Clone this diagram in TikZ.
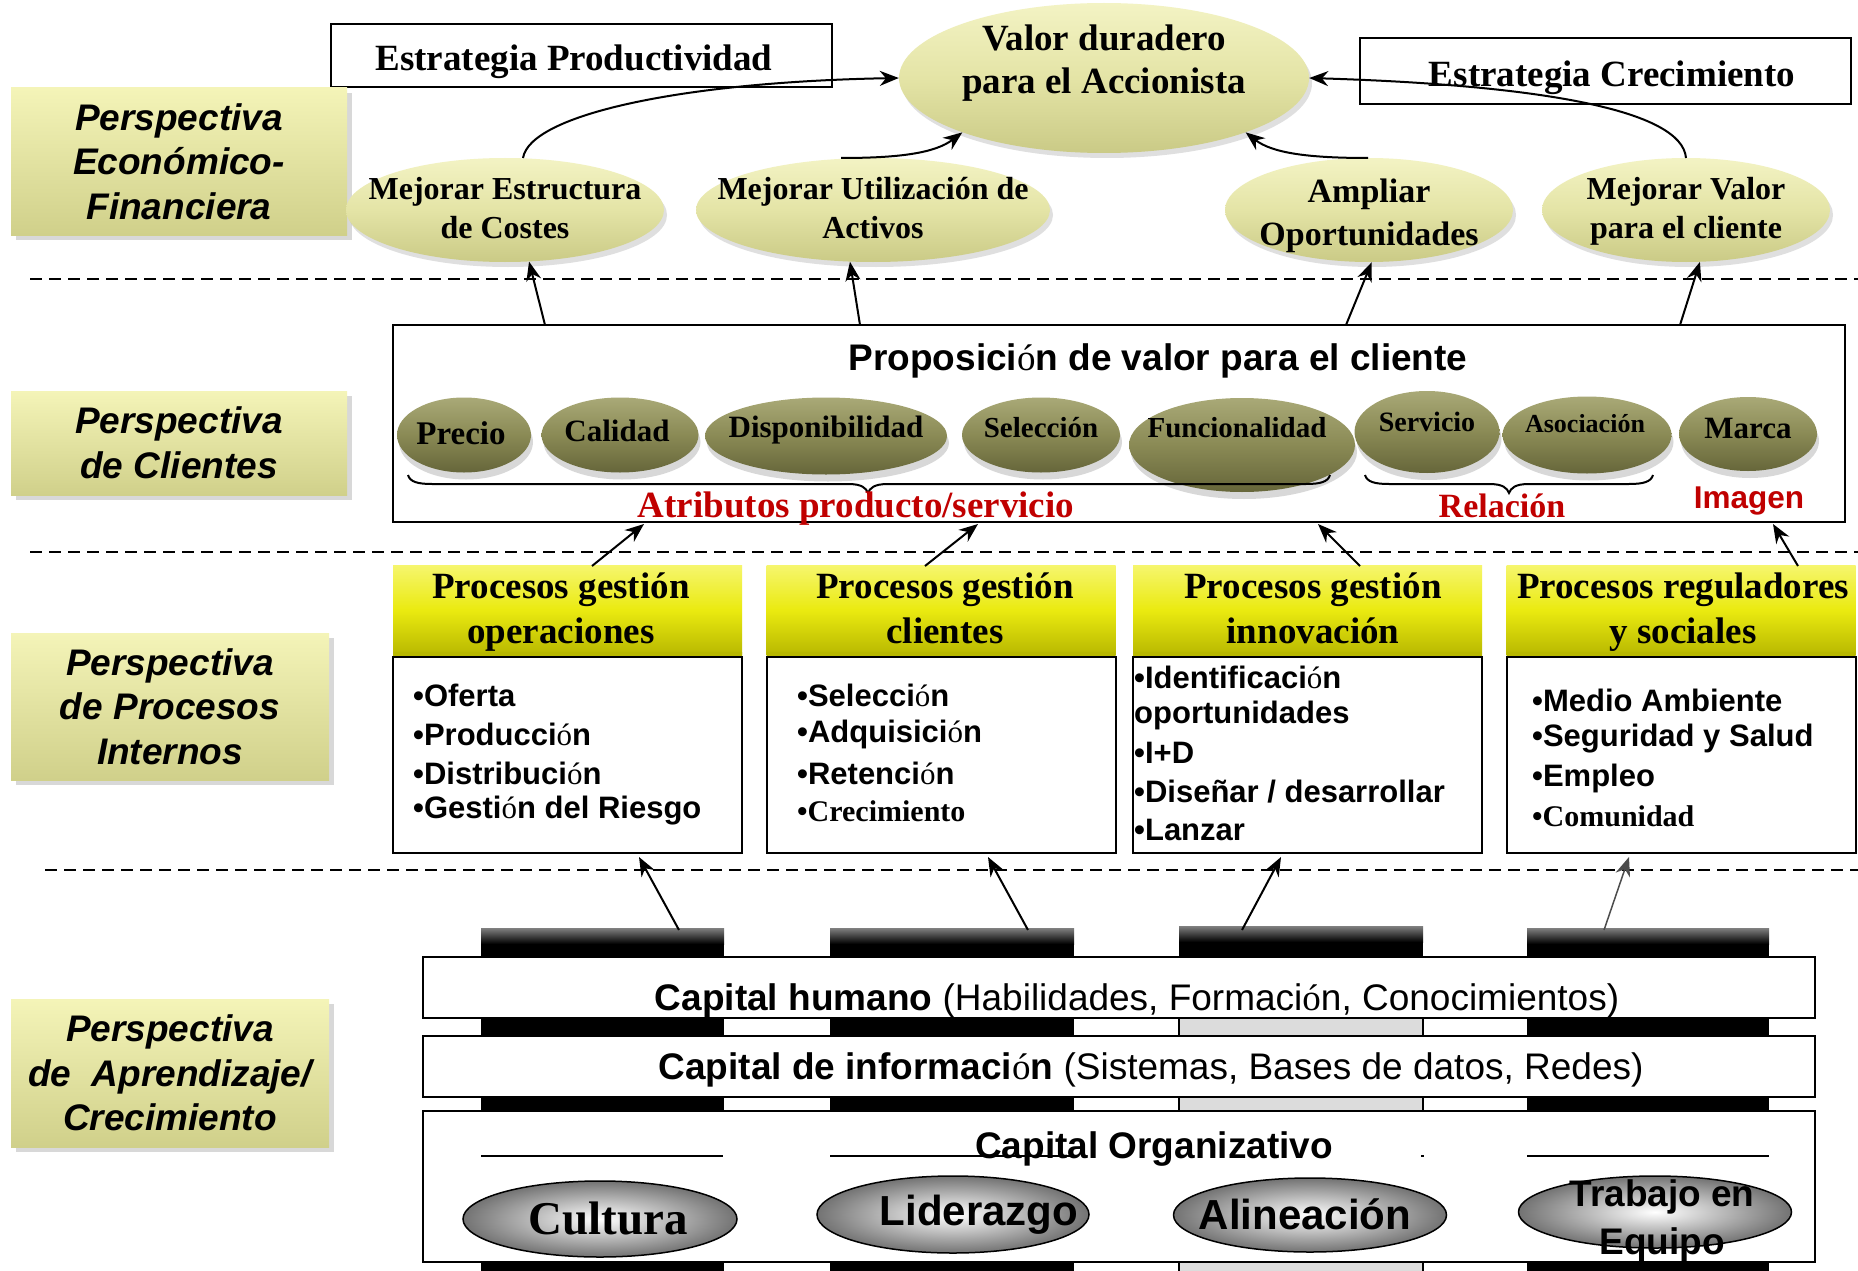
\documentclass[tikz,border=0pt]{standalone}
\usepackage{fontspec}
\setmainfont{Liberation Serif}
\setsansfont{Liberation Sans}
\newfontfamily\oofont{Liberation Serif}
\usetikzlibrary{shapes.geometric,arrows.meta,shadows,calc}
\newcommand{\oo}{{\oofont\mdseries ó}}
\newcommand{\fsz}[2]{\fontsize{#1}{#2}\selectfont}
\definecolor{persA}{HTML}{F4F4B8}
\definecolor{persB}{HTML}{D0D08A}
\definecolor{loA}{HTML}{F3F3C4}
\definecolor{loM}{HTML}{E4E4A6}
\definecolor{loB}{HTML}{CACA86}
\definecolor{doA}{HTML}{A9A977}
\definecolor{doM}{HTML}{8A8A55}
\definecolor{doB}{HTML}{66663A}
\definecolor{yA}{HTML}{F6F66E}
\definecolor{yM}{HTML}{EAEA10}
\definecolor{yB}{HTML}{B8B800}
\definecolor{redt}{HTML}{C00000}
\definecolor{cgray}{HTML}{DCDCDC}
\begin{document}
\begin{tikzpicture}[x=1pt,y=-1pt,
  persp/.style={rectangle,inner sep=0pt,top color=persA,bottom color=persB,
    drop shadow={shadow xshift=5pt,shadow yshift=-5pt,opacity=.3},
    align=center,font=\sffamily\bfseries\itshape\fsz{37}{44.5}},
  stratbox/.style={rectangle,draw,line width=2pt,fill=white,inner sep=0pt},
  sertxt/.style={inner sep=0pt,align=center,font=\bfseries\fsz{32}{39}},
  lolive/.style={ellipse,inner sep=0pt,top color=loA,bottom color=loB,middle color=loM,
    drop shadow={shadow xshift=3pt,shadow yshift=-5pt,opacity=.25}},
  dolive/.style={ellipse,inner sep=0pt,top color=doA,bottom color=doB,middle color=doM,
    drop shadow={shadow xshift=2pt,shadow yshift=-7pt,opacity=.3}},
  arr/.style={-{Stealth[length=19pt,width=15pt]},line width=2pt},
  sepline/.style={dash pattern=on 12pt off 7pt,line width=2.5pt},
  yhead/.style={rectangle,inner sep=0pt,top color=yA,bottom color=yB,middle color=yM,
    minimum width=349,minimum height=90},
  htxt/.style={inner sep=0pt,align=center,font=\bfseries\fsz{37}{45}},
  pbody/.style={rectangle,draw,line width=2pt,fill=white,minimum width=349,minimum height=196},
  bul/.style={anchor=west,inner sep=0pt,font=\sffamily\bfseries\fsz{31}{38}},
  band/.style={rectangle,draw,line width=2pt,fill=white,inner sep=0pt,minimum width=1392},
  silver/.style={ellipse,draw,line width=1.5pt,inner sep=0pt,inner color=white,outer color=black!55},
  brace/.style={line width=2pt}
]
\useasboundingbox (0,0) rectangle (1858,1271);
\fill[white] (0,0) rectangle (1858,1271);

% separators
\draw[sepline] (30,279) -- (1858,279);
\draw[sepline] (30,552) -- (1858,552);
\draw[sepline] (45,870) -- (1858,870);

% strategy boxes
\node[stratbox,minimum width=501,minimum height=63] (sprod) at (581.5,55.5) {};
\node[sertxt,font=\bfseries\fsz{37}{44}] (sprodt) at (574,62) {Estrategia Productividad};
\node[stratbox,minimum width=491,minimum height=66] (screc) at (1605.5,71) {};
\node[sertxt,font=\bfseries\fsz{37}{44}] (screct) at (1612,78) {Estrategia Crecimiento};

% perspective labels
\node[persp,minimum width=336,minimum height=147] (pe1) at (179,161.5) {Perspectiva\\Económico-\\Financiera};
\node[persp,minimum width=336,minimum height=104] (pe2) at (179,443) {Perspectiva\\de Clientes};
\node[persp,minimum width=318,minimum height=147] (pe3) at (170,706.5) {Perspectiva\\de Procesos\\Internos};
\node[persp,minimum width=318,minimum height=148] (pe4) at (170,1073) {Perspectiva\\de~ Aprendizaje/\\Crecimiento};

% financial ellipses
\node[lolive,minimum width=410,minimum height=150] (valor) at (1104,78) {};
\node[sertxt,font=\bfseries\fsz{37}{43}] (valort) at (1104,63) {Valor duradero\\para el Accionista};
\node[lolive,minimum width=318,minimum height=104] (me1) at (505,210) {};
\node[sertxt] (me1t) at (505,208) {Mejorar Estructura\\de Costes};
\node[lolive,minimum width=354,minimum height=104] (me2) at (873,210) {};
\node[sertxt] (me2t) at (873,208) {Mejorar Utilización de\\Activos};
\node[lolive,minimum width=288,minimum height=104] (me3) at (1369,210) {};
\node[sertxt,font=\bfseries\fsz{34}{43}] (me3t) at (1369,216) {Ampliar\\Oportunidades};
\node[lolive,minimum width=288,minimum height=104] (me4) at (1686,210) {};
\node[sertxt] (me4t) at (1686,211) {Mejorar Valor\\para el cliente};

% curved arrows to valor
\coordinate (c1) at (523,158);
\coordinate (c2) at (841,158);
\coordinate (c3) at (1368,158);
\coordinate (c4) at (1686,158);
\draw[arr] (c1) .. controls (530,115) and (680,82) .. (valor.west);
\draw[arr] (c2) .. controls (900,158) and (935,153) .. (valor.201);
\draw[arr] (c3) .. controls (1308,158) and (1272,153) .. (valor.-21);
\draw[arr] (c4) .. controls (1682,110) and (1540,85) .. (valor.east);

% customer value proposition
\node[rectangle,draw,line width=2pt,fill=white,minimum width=1452,minimum height=197,inner sep=0pt] (prop) at (1119,423.5) {};
\node[inner sep=0pt,font=\sffamily\bfseries\fsz{37}{44}] (propt) at (1158,361) {Proposici\oo n de valor para el cliente};

\node[dolive,minimum width=134,minimum height=75] (e1) at (464,435) {};
\node[sertxt,font=\bfseries\fsz{33}{40}] (e1t) at (461,433) {Precio};
\node[dolive,minimum width=157,minimum height=75] (e2) at (620,435) {};
\node[sertxt,font=\bfseries\fsz{31}{40}] (e2t) at (617,431) {Calidad};
\node[dolive,minimum width=242,minimum height=77] (e3) at (826,436) {};
\node[sertxt,font=\bfseries\fsz{31}{40}] (e3t) at (826,430) {Disponibilidad};
\node[dolive,minimum width=158,minimum height=75] (e4) at (1041,435) {};
\node[sertxt,font=\bfseries\fsz{29}{40}] (e4t) at (1041,428) {Selección};
\node[dolive,minimum width=226,minimum height=94] (e5) at (1242,445) {};
\node[sertxt,font=\bfseries\fsz{29}{40}] (e5t) at (1237,428) {Funcionalidad};
\node[dolive,minimum width=145,minimum height=82] (e6) at (1427,432) {};
\node[sertxt,font=\bfseries\fsz{28}{40}] (e6t) at (1427,422) {Servicio};
\node[dolive,minimum width=169,minimum height=77] (e7) at (1587,435) {};
\node[sertxt,font=\bfseries\fsz{26}{40}] (e7t) at (1585,424) {Asociación};
\node[dolive,minimum width=138,minimum height=74] (e8) at (1748,434) {};
\node[sertxt,font=\bfseries\fsz{31}{40}] (e8t) at (1748,428) {Marca};

\draw[brace] (408,475) .. controls (410,482) and (418,484) .. (432,484) -- (848,484)
  .. controls (862,484) and (866,488) .. (868,493) .. controls (870,488) and (874,484) .. (888,484)
  -- (1306,484) .. controls (1320,484) and (1328,482) .. (1330,475);
\draw[brace] (1365,475) .. controls (1367,482) and (1375,484) .. (1389,484) -- (1489,484)
  .. controls (1503,484) and (1507,488) .. (1509,493) .. controls (1511,488) and (1515,484) .. (1529,484)
  -- (1629,484) .. controls (1643,484) and (1651,482) .. (1653,475);
\node[sertxt,text=redt,font=\bfseries\fsz{37}{44}] (attr) at (856,509) {Atributos producto/servicio};
\node[sertxt,text=redt,font=\bfseries\fsz{34}{40}] (rel) at (1502,506) {Relación};
\node[inner sep=0pt,text=redt,font=\sffamily\bfseries\fsz{31.5}{38}] (img) at (1749,501) {Imagen};

% arrows prop -> financial
\coordinate (a1) at (545,325);
\coordinate (a2) at (860,325);
\coordinate (a3) at (1346,325);
\coordinate (a4) at (1680,325);
\draw[arr] (a1) -- (me1.-65);
\draw[arr] (a2) -- (me2.-114);
\draw[arr] (a3) -- (me3.-87);
\draw[arr] (a4) -- (me4.-75);

% internal processes
\node[pbody] (b1) at (567.5,755) {};
\node[pbody] (b2) at (941,755) {};
\node[pbody] (b3) at (1307.5,755) {};
\node[pbody] (b4) at (1681,755) {};
\node[yhead] (h1) at (567.5,610) {};
\node[yhead] (h2) at (941,610) {};
\node[yhead] (h3) at (1307.5,610) {};
\node[yhead] (h4) at (1681,610) {};
\fill[yB] (393,652) rectangle (742,655) (767,652) rectangle (1115,655) (1134,652) rectangle (1481,655) (1507,652) rectangle (1855,655);
\node[htxt] (h1t) at (561,612) {Procesos gestión\\operaciones};
\node[htxt] (h2t) at (945,612) {Procesos gestión\\clientes\vphantom{p}};
\node[htxt] (h3t) at (1313,612) {Procesos gestión\\innovación\vphantom{p}};
\node[htxt] (h4t) at (1683,612) {Procesos reguladores\\y sociales};

\node[bul] (l11) at (413,695) {•Oferta};
\node[bul] (l12) at (413,734) {•Producci\oo n};
\node[bul] (l13) at (413,773) {•Distribuci\oo n};
\node[bul] (l14) at (413,811) {•Gesti\oo n del Riesgo};
\node[bul] (l21) at (797,695) {•Selecci\oo n};
\node[bul] (l22) at (797,734) {•Adquisici\oo n};
\node[bul] (l23) at (797,773) {•Retenci\oo n};
\node[bul,font=\bfseries\fsz{30}{38}] (l24) at (797,811) {•Crecimiento};
\node[bul] (l31) at (1134,677) {•Identificaci\oo n};
\node[bul] (l32) at (1134,715) {oportunidades};
\node[bul] (l33) at (1134,753) {•I+D};
\node[bul] (l34) at (1134,792) {•Diseñar / desarrollar};
\node[bul] (l35) at (1134,830) {•Lanzar};
\node[bul] (l41) at (1532,700) {•Medio Ambiente};
\node[bul] (l42) at (1532,739) {•Seguridad y Salud};
\node[bul] (l43) at (1532,778) {•Empleo};
\node[bul,font=\bfseries\fsz{30}{38}] (l44) at (1532,816) {•Comunidad};

% arrows processes -> prop
\coordinate (p1) at (592,566); \coordinate (q1) at (644,524);
\coordinate (p2) at (925,566); \coordinate (q2) at (978,524);
\coordinate (p3) at (1360,566); \coordinate (q3) at (1318,524);
\coordinate (p4) at (1798,566); \coordinate (q4) at (1773,524);
\draw[arr] (p1) -- (q1);
\draw[arr] (p2) -- (q2);
\draw[arr] (p3) -- (q3);
\draw[arr] (p4) -- (q4);

% pillars
\foreach \xa/\xb in {481/724,830/1074,1527/1769}{
  \fill[black] (\xa,928) rectangle (\xb,1271);
  \shade[top color=black!50,bottom color=black] (\xa,928) rectangle (\xb,944);
}
\fill[cgray] (1179,1000) rectangle (1423,1271);
\draw[line width=1.5pt] (1179,1000) -- (1179,1271) (1423,1000) -- (1423,1271);
\fill[black] (1179,926) rectangle (1423,958);
\shade[top color=black!50,bottom color=black] (1179,926) rectangle (1423,942);

% capital bands
\node[band,minimum height=61] (ch) at (1119,987.5) {};
\node[band,minimum height=61] (ci) at (1119,1066.5) {};
\node[band,minimum height=151] (co) at (1119,1186.5) {};
\node[inner sep=0pt,font=\sffamily\fsz{37}{44}] (cht) at (1137,1001) {\textbf{Capital humano} (Habilidades, Formaci\oo n, Conocimientos)};
\node[inner sep=0pt,font=\sffamily\fsz{37}{44}] (cit) at (1151,1070) {\textbf{Capital de informaci\oo n} (Sistemas, Bases de datos, Redes)};
\draw[line width=1.5pt] (481,1156) -- (723,1156) (830,1156) -- (1074,1156) (1421,1156) -- (1424,1156) (1527,1156) -- (1769,1156);
\node[inner sep=0pt,font=\sffamily\bfseries\fsz{37}{44}] (cot) at (1154,1149) {Capital Organizativo};

\node[silver,minimum width=274,minimum height=76] (s1) at (600,1219) {};
\node[sertxt,font=\bfseries\fsz{47}{50}] (s1t) at (608,1218) {Cultura};
\node[silver,minimum width=272,minimum height=77] (s2) at (953,1214.5) {};
\node[inner sep=0pt,font=\sffamily\bfseries\fsz{42}{48}] (s2t) at (979,1215) {Liderazgo};
\node[silver,minimum width=273,minimum height=74] (s3) at (1310,1215) {};
\node[inner sep=0pt,font=\sffamily\bfseries\fsz{42}{48}] (s3t) at (1305,1214) {Alineación};
\node[silver,minimum width=273,minimum height=72] (s4) at (1655,1212) {};
\node[inner sep=0pt,align=center,font=\sffamily\bfseries\fsz{37}{48}] (s4t) at (1662,1221) {Trabajo en\\Equipo};

% arrows pillars -> processes
\coordinate (r1) at (679,930); \coordinate (u1) at (639,857);
\coordinate (r2) at (1028,930); \coordinate (u2) at (988,857);
\coordinate (r3) at (1242,930); \coordinate (u3) at (1281,857);
\coordinate (r4) at (1604,930); \coordinate (u4) at (1629,857);
\draw[arr] (r1) -- (u1);
\draw[arr] (r2) -- (u2);
\draw[arr] (r3) -- (u3);
\draw[arr,line width=1.5pt,draw=black!70] (r4) -- (u4);
\end{tikzpicture}
\end{document}
